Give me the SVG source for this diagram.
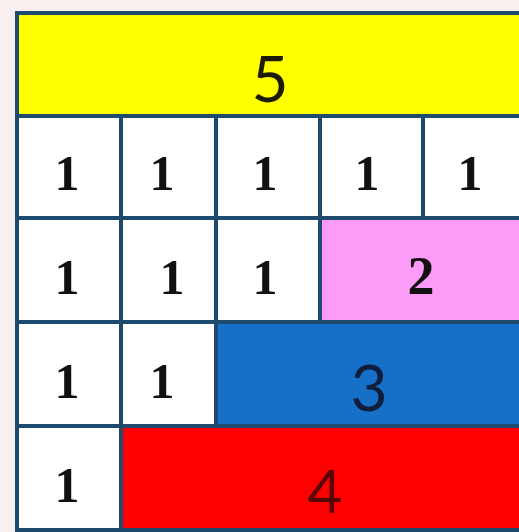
<svg xmlns="http://www.w3.org/2000/svg" width="519" height="532" viewBox="0 0 519 532">
<style>
.cell{stroke:#1e4a6e;stroke-width:4}
.w{fill:#ffffff}
.one{font-family:"Liberation Serif",serif;font-weight:bold;font-size:50px;fill:#111111;text-anchor:middle}
.big{font-family:Lato,"Open Sans",sans-serif;font-size:64px;text-anchor:middle}
</style>
<rect x="0" y="0" width="519" height="532" fill="#f8efee"/>
<g id="row5">
<rect class="cell" x="17" y="13" width="520" height="103" fill="#ffff00"/>
<text class="big" x="270" y="102" fill="#1c1c05">5</text>
</g>
<g id="row1">
<rect class="cell w" x="17" y="116" width="104" height="102"/>
<rect class="cell w" x="121" y="116" width="95" height="102"/>
<rect class="cell w" x="216" y="116" width="104" height="102"/>
<rect class="cell w" x="320" y="116" width="103" height="102"/>
<rect class="cell w" x="423" y="116" width="110" height="102"/>
<text class="one" x="67" y="190">1</text>
<text class="one" x="162" y="190">1</text>
<text class="one" x="265" y="190">1</text>
<text class="one" x="367" y="190">1</text>
<text class="one" x="470" y="190">1</text>
</g>
<g id="row2">
<rect class="cell w" x="17" y="218" width="104" height="104"/>
<rect class="cell w" x="121" y="218" width="95" height="104"/>
<rect class="cell w" x="216" y="218" width="104" height="104"/>
<rect class="cell" x="320" y="218" width="215" height="104" fill="#fd9bf8"/>
<text class="one" x="67" y="294">1</text>
<text class="one" x="172" y="294">1</text>
<text class="one" x="265" y="294">1</text>
<text class="one" x="421" y="294" fill="#3a0a30" style="font-size:54px">2</text>
</g>
<g id="row3">
<rect class="cell w" x="17" y="322" width="104" height="104"/>
<rect class="cell w" x="121" y="322" width="95" height="104"/>
<rect class="cell" x="216" y="322" width="320" height="104" fill="#1670c8"/>
<text class="one" x="67" y="398">1</text>
<text class="one" x="162" y="398">1</text>
<text class="big" x="369" y="411" fill="#101e3e">3</text>
</g>
<g id="row4">
<rect class="cell w" x="17" y="426" width="104" height="104"/>
<rect class="cell" x="121" y="426" width="415" height="104" fill="#ff0000"/>
<text class="one" x="67" y="502">1</text>
<text class="big" x="325" y="513" fill="#5a0505" style="font-size:60px">4</text>
</g>
</svg>
